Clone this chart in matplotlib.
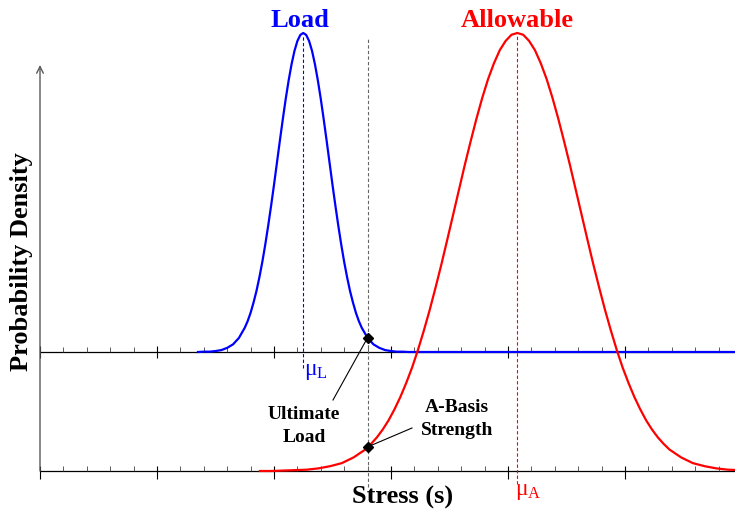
import matplotlib.pyplot as plt

plt.rcParams['font.family'] = ['Liberation Serif', 'DejaVu Serif']
plt.rcParams['mathtext.fontset'] = 'custom'
plt.rcParams['mathtext.rm'] = 'Liberation Serif'

# Load distribution: stress values and relative density (peak = 1)
load_x = [1.35, 1.40, 1.45, 1.50, 1.55, 1.60, 1.65, 1.70, 1.75, 1.775, 1.80, 1.825,
          1.85, 1.875, 1.90, 1.925, 1.95, 1.975, 2.00, 2.025, 2.05, 2.075, 2.10, 2.125,
          2.15, 2.175, 2.20, 2.225, 2.25, 2.275, 2.30, 2.325, 2.35, 2.375, 2.40, 2.425,
          2.45, 2.475, 2.50, 2.525, 2.55, 2.575, 2.60, 2.625, 2.65, 2.675, 2.70, 2.725,
          2.75, 2.80, 2.85, 2.90, 2.95, 3.00, 3.05, 3.10, 3.15, 3.25, 5.95]
load_y = [0.000, 0.001, 0.001, 0.003, 0.006, 0.013, 0.024, 0.044, 0.076, 0.097, 0.123, 0.155,
          0.191, 0.234, 0.282, 0.336, 0.395, 0.458, 0.524, 0.593, 0.662, 0.729, 0.793, 0.851,
          0.902, 0.944, 0.975, 0.994, 1.000, 0.994, 0.975, 0.944, 0.902, 0.851, 0.793, 0.729,
          0.662, 0.593, 0.524, 0.458, 0.395, 0.336, 0.282, 0.234, 0.191, 0.155, 0.123, 0.097,
          0.076, 0.044, 0.024, 0.013, 0.006, 0.003, 0.001, 0.001, 0.000, 0.000, 0.000]

# Allowable distribution
allow_x = [1.88, 1.98, 2.08, 2.18, 2.28, 2.38, 2.48, 2.58, 2.68, 2.78, 2.83, 2.88,
           2.93, 2.98, 3.03, 3.08, 3.13, 3.18, 3.23, 3.28, 3.33, 3.38, 3.43, 3.48,
           3.53, 3.58, 3.63, 3.68, 3.73, 3.78, 3.83, 3.88, 3.93, 3.98, 4.03, 4.08,
           4.13, 4.18, 4.23, 4.28, 4.33, 4.38, 4.43, 4.48, 4.53, 4.58, 4.63, 4.68,
           4.73, 4.78, 4.83, 4.88, 4.93, 4.98, 5.03, 5.08, 5.13, 5.18, 5.23, 5.28,
           5.33, 5.38, 5.48, 5.58, 5.68, 5.78, 5.88, 5.98]
allow_y = [0.000, 0.000, 0.001, 0.002, 0.003, 0.006, 0.011, 0.018, 0.031, 0.049, 0.062, 0.077,
           0.095, 0.116, 0.141, 0.169, 0.201, 0.236, 0.276, 0.320, 0.367, 0.418, 0.471, 0.527,
           0.584, 0.641, 0.698, 0.752, 0.804, 0.852, 0.895, 0.931, 0.961, 0.982, 0.996, 1.000,
           0.996, 0.982, 0.961, 0.931, 0.895, 0.852, 0.804, 0.752, 0.698, 0.641, 0.584, 0.527,
           0.471, 0.418, 0.367, 0.320, 0.276, 0.236, 0.201, 0.169, 0.141, 0.116, 0.095, 0.077,
           0.062, 0.049, 0.031, 0.018, 0.011, 0.006, 0.003, 0.002]

mu_load = 2.25
mu_allow = 4.08
design_x = 2.80          # ultimate load / A-basis strength
ultimate_y = 0.045       # relative height of load curve at design_x
abasis_y = 0.055         # relative height of allowable curve at design_x

# layout (pixel scale of the original drawing)
PX_X, PX_Y = 117.0, 438.0
LOAD_BASE = 119 / PX_Y
LOAD_SCALE = 319 / PX_Y


def py(p):
    return p / PX_Y


fig = plt.figure(figsize=(7.35, 5.16), dpi=100)
ax = fig.add_axes([0, 0, 1, 1])
ax.set_xlim(-40 / PX_X, 695 / PX_X)
ax.set_ylim(-45 / PX_Y, 471 / PX_Y)
ax.axis('off')

# baselines and ticks
x_end = 700 / PX_X
ax.hlines([0, LOAD_BASE], 0, x_end, color='black', lw=0.9, zorder=2)
for i in range(31):
    x = i * 0.2
    if i % 5 == 0:
        ax.vlines(x, LOAD_BASE - py(6), LOAD_BASE + py(6), color='black', lw=0.8, zorder=2)
        ax.vlines(x, -py(8), py(5), color='black', lw=0.8, zorder=2)
    else:
        ax.vlines(x, LOAD_BASE, LOAD_BASE + py(5.5), color='0.25', lw=0.6, zorder=2)
        ax.vlines(x, 0, py(5), color='0.25', lw=0.6, zorder=2)

# y axis arrow
ax.annotate('', xy=(0, py(406)), xytext=(0, 0),
            arrowprops=dict(arrowstyle='->', color='0.35', lw=1.0,
                            shrinkA=0, shrinkB=0, mutation_scale=12), zorder=2)

# dashed reference lines
ax.vlines(mu_load, py(103), py(436), color='blue', lw=0.8, ls=(0, (3, 2)), zorder=3)
ax.vlines(mu_allow, -py(13), py(436), color='red', lw=0.8, ls=(0, (3, 2)), zorder=3)
ax.vlines(design_x, -py(16), py(433), color='0.4', lw=0.8, ls=(0, (3, 2)), zorder=3)

# curves
ax.plot(load_x, [LOAD_BASE + LOAD_SCALE * v for v in load_y], color='#0000FF', lw=1.6, zorder=4)
ax.plot(allow_x, allow_y, color='#FF0000', lw=1.6, zorder=5)

# markers and annotations
ult_pt = (design_x, LOAD_BASE + LOAD_SCALE * ultimate_y)
ab_pt = (design_x, abasis_y)
ax.plot(*ult_pt, marker='D', color='black', ms=5.5, zorder=6)
ax.plot(*ab_pt, marker='D', color='black', ms=5.5, zorder=6)
ax.plot([ult_pt[0], 293 / PX_X], [ult_pt[1], py(71)], color='black', lw=0.8, zorder=6)
ax.plot([ab_pt[0], 372 / PX_X], [ab_pt[1], py(43)], color='black', lw=0.8, zorder=6)

bold = dict(fontweight='bold', ha='center', va='center')
ax.text(264 / PX_X, py(45), 'Ultimate\nLoad', fontsize=14, linespacing=1.45, **bold)
ax.text(417 / PX_X, py(52), 'A-Basis\nStrength', fontsize=14, linespacing=1.45, **bold)
ax.text(363 / PX_X, -py(26), 'Stress (s)', fontsize=19, **bold)
ax.text(-18 / PX_X, py(209), 'Probability Density', fontsize=19, rotation=90, **bold)
ax.text(260 / PX_X, py(450), 'Load', fontsize=19, color='#0000FF', **bold)
ax.text(477 / PX_X, py(450), 'Allowable', fontsize=19, color='#FF0000', **bold)

ax.text(mu_load + 0.01, py(100), r'$\mathregular{μ_L}$', fontsize=17, color='#0000FF',
        ha='left', va='center')
ax.text(mu_allow - 0.02, -py(21), r'$\mathregular{μ_A}$', fontsize=17, color='#FF0000',
        ha='left', va='center')

fig.savefig('out.png', dpi=100)
